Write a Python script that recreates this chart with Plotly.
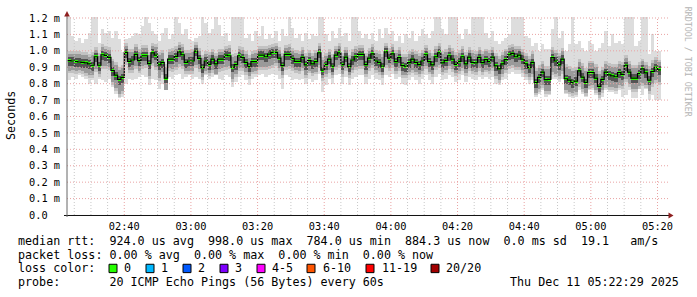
import plotly.graph_objects as go
from datetime import datetime, timedelta

# ---------------- data (microseconds) ----------------
median_us = [
    940, 938, 935, 932, 930, 926, 920, 912, 964, 912,
    976, 972, 960, 880, 852, 826, 838, 990, 936, 944,
    978, 940, 970, 970, 922, 988, 974, 914, 930, 834,
    950, 950, 966, 994, 976, 930, 938, 938, 998, 954,
    898, 938, 918, 950, 920, 950, 950, 974, 970, 900,
    916, 970, 958, 930, 904, 934, 934, 974, 974, 964,
    980, 990, 990, 956, 910, 978, 978, 954, 936, 936,
    960, 914, 940, 920, 934, 988, 882, 918, 950, 906,
    974, 988, 916, 962, 904, 944, 964, 978, 978, 916,
    956, 982, 938, 930, 906, 994, 956, 982, 934, 958,
    910, 906, 928, 950, 930, 916, 938, 976, 934, 914,
    964, 988, 926, 942, 970, 950, 918, 936, 964, 920,
    962, 930, 926, 960, 928, 946, 934, 962, 908, 890,
    920, 946, 976, 984, 964, 974, 950, 920, 898, 930,
    806, 838, 870, 824, 826, 958, 938, 914, 950, 830,
    822, 806, 816, 878, 840, 808, 868, 868, 834, 784,
    826, 870, 854, 848, 842, 868, 856, 912, 870, 834,
    834, 862, 890, 866, 822, 874, 900, 884,
]

smoke_max_us = [
    1230, 1090, 1060, 1080, 1050, 1070, 1110, 1230, 1230, 1050,
    1130, 1110, 1120, 1080, 1120, 1070, 990, 1070, 1080, 1090,
    1110, 1100, 1150, 1230, 1170, 1120, 1100, 1060, 1110, 1140,
    1070, 1100, 1230, 1170, 1100, 1130, 1070, 1060, 1080, 1090,
    1230, 1170, 1110, 1130, 1230, 1160, 1090, 1110, 1060, 1230,
    1230, 1230, 1230, 1080, 1100, 1060, 1120, 1090, 1150, 1070,
    1100, 1080, 1120, 1060, 1130, 1090, 1230, 1140, 1080, 1100,
    1060, 1110, 1070, 1100, 1090, 1230, 1230, 1100, 1060, 1120,
    1080, 1140, 1090, 1110, 1060, 1230, 1230, 1120, 1080, 1100,
    1070, 1110, 1060, 1130, 1080, 1140, 1100, 1120, 1060, 1090,
    1050, 1100, 1080, 1120, 1060, 1090, 1130, 1100, 1080, 1120,
    1230, 1230, 1130, 1100, 1230, 1230, 1230, 1100, 1070, 1130,
    1100, 1230, 1230, 1230, 1230, 1110, 1080, 1120, 1060, 1040,
    1060, 1080, 1100, 1230, 1230, 1230, 1230, 1090, 1080, 1030,
    1050, 1000, 1040, 1010, 1010, 1130, 1230, 1080, 1120, 1000,
    1040, 1230, 1040, 1060, 1020, 1000, 1060, 1040, 1000, 1020,
    1050, 1120, 1030, 1100, 1050, 1060, 1040, 1230, 1230, 1230,
    1030, 1060, 1230, 1230, 980, 1100, 1000, 1000,
]

smoke_min_us = [
    820, 840, 830, 850, 840, 830, 800, 820, 800, 830,
    820, 810, 830, 780, 740, 710, 720, 800, 830, 820,
    830, 840, 850, 840, 790, 830, 820, 770, 800, 760,
    840, 830, 850, 860, 830, 840, 850, 830, 840, 830,
    800, 850, 830, 840, 850, 830, 820, 850, 840, 780,
    810, 840, 850, 820, 790, 830, 840, 850, 860, 840,
    850, 860, 850, 830, 770, 850, 840, 820, 830, 820,
    830, 800, 830, 810, 820, 860, 750, 790, 830, 800,
    850, 860, 800, 840, 790, 830, 840, 850, 850, 800,
    830, 850, 830, 820, 790, 850, 840, 860, 830, 840,
    800, 790, 820, 840, 820, 800, 830, 850, 820, 800,
    840, 860, 820, 830, 850, 840, 810, 820, 850, 810,
    840, 830, 820, 840, 830, 840, 830, 840, 800, 790,
    820, 830, 860, 870, 860, 860, 840, 820, 800, 820,
    720, 740, 760, 720, 730, 830, 830, 810, 830, 740,
    720, 710, 720, 760, 740, 720, 760, 760, 730, 700,
    720, 760, 750, 750, 740, 760, 720, 730, 760, 710,
    710, 770, 730, 770, 700, 730, 700, 700,
]

mid_below_us = [
    60, 55, 60, 50, 55, 60, 70, 60, 75, 55,
    70, 65, 60, 70, 80, 90, 85, 60, 55, 60,
    70, 60, 65, 55, 75, 60, 70, 80, 60, 70,
    55, 60, 65, 75, 70, 55, 60, 60, 85, 65,
    55, 60, 55, 65, 60, 60, 55, 70, 65, 70,
    60, 75, 65, 60, 55, 60, 55, 70, 75, 65,
    70, 75, 65, 60, 60, 75, 70, 60, 55, 60,
    65, 60, 60, 55, 60, 75, 50, 60, 65, 55,
    70, 75, 55, 65, 50, 60, 65, 70, 70, 55,
    60, 70, 55, 60, 55, 80, 60, 70, 55, 60,
    55, 55, 60, 65, 60, 55, 60, 70, 60, 55,
    65, 75, 55, 60, 65, 60, 55, 60, 70, 55,
    65, 55, 55, 65, 55, 60, 55, 65, 60, 65,
    60, 65, 70, 70, 65, 70, 65, 60, 60, 70,
    60, 70, 80, 70, 70, 90, 80, 70, 75, 70,
    70, 65, 65, 80, 70, 65, 80, 75, 70, 55,
    65, 80, 75, 70, 70, 75, 70, 85, 75, 65,
    65, 75, 85, 75, 65, 75, 80, 75,
]

mid_above_us = [
    40, 45, 45, 50, 45, 50, 45, 60, 40, 55,
    45, 40, 45, 55, 60, 55, 60, 40, 55, 50,
    45, 55, 45, 50, 55, 40, 50, 60, 55, 70,
    45, 50, 45, 40, 45, 55, 50, 55, 40, 45,
    60, 45, 55, 45, 50, 45, 45, 40, 45, 60,
    50, 40, 45, 50, 55, 45, 50, 40, 40, 45,
    40, 35, 40, 50, 60, 40, 45, 45, 50, 45,
    45, 55, 45, 50, 50, 40, 65, 50, 45, 55,
    40, 40, 55, 45, 55, 50, 45, 40, 40, 50,
    45, 40, 50, 50, 55, 35, 45, 40, 50, 45,
    55, 55, 50, 45, 50, 55, 50, 40, 50, 55,
    45, 40, 55, 50, 45, 50, 55, 50, 45, 55,
    45, 55, 55, 45, 50, 50, 50, 45, 60, 60,
    55, 50, 40, 40, 45, 40, 45, 50, 55, 50,
    70, 60, 50, 65, 65, 45, 50, 55, 50, 70,
    70, 70, 70, 55, 65, 70, 55, 55, 65, 75,
    60, 50, 55, 55, 60, 50, 55, 45, 50, 60,
    60, 50, 45, 50, 65, 50, 45, 45,
]

y_tick_vals = [0.0, 0.1, 0.2, 0.3, 0.4, 0.5, 0.6, 0.7, 0.8, 0.9, 1.0, 1.1, 1.2]
y_tick_text = ["0.0\u00a0\u00a0", "0.1 m", "0.2 m", "0.3 m", "0.4 m", "0.5 m", "0.6 m",
               "0.7 m", "0.8 m", "0.9 m", "1.0 m", "1.1 m", "1.2 m"]

legend_lines = [
    "median rtt:  924.0 us avg  998.0 us max  784.0 us min  884.3 us now  0.0 ms sd  19.1   am/s",
    "packet loss: 0.00 % avg  0.00 % max  0.00 % min  0.00 % now",
    "loss color:",
    "probe:       20 ICMP Echo Pings (56 Bytes) every 60s",
]
loss_labels = ["0", "1", "2", "3", "4-5", "6-10", "11-19", "20/20"]
loss_colors = ["#26ff00", "#00b8ff", "#0059ff", "#7e00ff", "#ff00ff", "#ff5500", "#ff0000", "#a10000"]
stamp = "Thu Dec 11 05:22:29 2025"

# ---------------- geometry / style ----------------
W, H = 697, 297
ML, MR, MT, MB = 67, 28, 14, 82
PW, PH = W - ML - MR, H - MT - MB
MONO = "DejaVu Sans Mono"


def px(x):
    return (x - ML) / PW


def py(y):
    return (MT + PH - y) / PH


start = datetime(2025, 12, 11, 2, 23, 0)
step = timedelta(minutes=1)
n = len(median_us)
t_left = [start + i * step for i in range(n)]
t_mid = [t + step / 2 for t in t_left]
STEP_MS = 60000

med = [v / 1000 for v in median_us]
smin = [v / 1000 for v in smoke_min_us]
smax = [v / 1000 for v in smoke_max_us]
mlo = [m - b / 1000 for m, b in zip(med, mid_below_us)]
mhi = [m + a / 1000 for m, a in zip(med, mid_above_us)]

PAD = 0.018           # soft edge around the medium smoke band (style)
DARK_BELOW, DARK_ABOVE = 0.032, 0.022
GREEN_HALF = 0.009

fig = go.Figure()


def band(lo, hi, color):
    fig.add_trace(go.Bar(
        x=t_mid, y=[h - l for l, h in zip(lo, hi)], base=lo, width=STEP_MS,
        marker=dict(color=color, line=dict(width=0)), hoverinfo="skip", showlegend=False))


band(smin, smax, "#dddddd")
band([max(a, b - PAD) for a, b in zip(smin, mlo)], [min(a, b + PAD) for a, b in zip(smax, mhi)], "#c2c2c2")
band(mlo, mhi, "#9a9a9a")
band([m - DARK_BELOW for m in med], [m + DARK_ABOVE for m in med], "#535353")

# black step line of the median
fig.add_trace(go.Scatter(
    x=t_left + [t_left[-1] + step], y=med + [med[-1]], mode="lines",
    line=dict(color="#000000", width=1.2, shape="hv"), hoverinfo="skip", showlegend=False))

# green median marks (loss 0)
band([m - GREEN_HALF for m in med], [m + GREEN_HALF for m in med], "#26ff00")

x_start = datetime(2025, 12, 11, 2, 22, 49)
x_end = datetime(2025, 12, 11, 5, 23, 27)

shapes = []
# grid (drawn above the smoke)
t = datetime(2025, 12, 11, 2, 25)
while t <= datetime(2025, 12, 11, 5, 20):
    major = (t.minute % 20 == 0)
    shapes.append(dict(type="line", xref="x", yref="paper", x0=t, x1=t, y0=0, y1=1,
                       layer="above",
                       line=dict(color="#e9a3a3" if major else "#c8c8c8", width=1, dash="1px,2px")))
    t += timedelta(minutes=5)
for v in y_tick_vals[1:]:
    shapes.append(dict(type="line", xref="paper", yref="y", x0=0, x1=1, y0=v, y1=v,
                       layer="above", line=dict(color="#e9a3a3", width=1, dash="1px,2px")))

# axes lines and arrows
shapes.append(dict(type="line", xref="paper", yref="paper", x0=px(64), x1=px(670),
                   y0=py(215.5), y1=py(215.5), layer="above", line=dict(color="#111111", width=1)))
shapes.append(dict(type="line", xref="paper", yref="paper", x0=px(67), x1=px(67),
                   y0=py(217), y1=py(11), layer="above", line=dict(color="#666666", width=1)))
shapes.append(dict(type="path", xref="paper", yref="paper", layer="above",
                   path=f"M {px(64.2)} {py(13.5)} L {px(69.8)} {py(13.5)} L {px(67)} {py(8)} Z",
                   fillcolor="#8e1f1f", line=dict(width=0)))
shapes.append(dict(type="path", xref="paper", yref="paper", layer="above",
                   path=f"M {px(668.5)} {py(212.5)} L {px(668.5)} {py(218.5)} L {px(673.5)} {py(215.5)} Z",
                   fillcolor="#8e1f1f", line=dict(width=0)))

# loss color boxes
box_x = [109, 146, 183, 220, 257, 307, 366, 431]
label_x = [122, 159, 196, 233, 270, 320.5, 379.5, 444]
for bx, c in zip(box_x, loss_colors):
    shapes.append(dict(type="rect", xref="paper", yref="paper", x0=px(bx), x1=px(bx + 8),
                       y0=py(273.5), y1=py(265), fillcolor=c, line=dict(color="#000000", width=1)))

annotations = []
line_y = [241.7, 255.2, 269.2, 282.8]
for txt, yy in zip(legend_lines, line_y):
    annotations.append(dict(text=txt.replace(" ", "\u00a0"), xref="paper", yref="paper",
                            x=px(16), y=py(yy), xanchor="left", yanchor="middle", showarrow=False,
                            font=dict(family=MONO, size=11.7, color="#000000")))
for lx, lab in zip(label_x, loss_labels):
    annotations.append(dict(text=lab, xref="paper", yref="paper", x=px(lx), y=py(line_y[2]),
                            xanchor="left", yanchor="middle", showarrow=False,
                            font=dict(family=MONO, size=11.7, color="#000000")))
annotations.append(dict(text=stamp, xref="paper", yref="paper", x=px(680.5), y=py(line_y[3]),
                        xanchor="right", yanchor="middle", showarrow=False,
                        font=dict(family=MONO, size=11.7, color="#000000")))
annotations.append(dict(text="Seconds", xref="paper", yref="paper", x=px(10.5), y=py(114),
                        xanchor="center", yanchor="middle", textangle=-90, showarrow=False,
                        font=dict(family=MONO, size=11.7, color="#000000")))
annotations.append(dict(text="RRDTOOL / TOBI OETIKER", xref="paper", yref="paper", x=px(687.5), y=py(60),
                        xanchor="center", yanchor="middle", textangle=90, showarrow=False,
                        font=dict(family=MONO, size=8.3, color="#b4b4b4")))

fig.update_layout(
    width=W, height=H, margin=dict(l=ML, r=MR, t=MT, b=MB, pad=0),
    paper_bgcolor="#ffffff", plot_bgcolor="#ffffff",
    barmode="overlay", bargap=0, showlegend=False,
    shapes=shapes, annotations=annotations,
    xaxis=dict(type="date", range=[x_start, x_end], showgrid=False, zeroline=False, showline=False,
               tick0=datetime(2025, 12, 11, 2, 40), dtick=20 * 60 * 1000, tickformat="%H:%M",
               ticks="", ticklabelstandoff=4,
               tickfont=dict(family=MONO, size=10.3, color="#000000"), fixedrange=True),
    yaxis=dict(range=[0, 1.206], showgrid=False, zeroline=False, showline=False,
               tickmode="array", tickvals=y_tick_vals, ticktext=y_tick_text, ticks="",
               ticklabelstandoff=6,
               tickfont=dict(family=MONO, size=10.3, color="#000000"), fixedrange=True),
)

fig.write_html("out.html", config={"displayModeBar": False})
